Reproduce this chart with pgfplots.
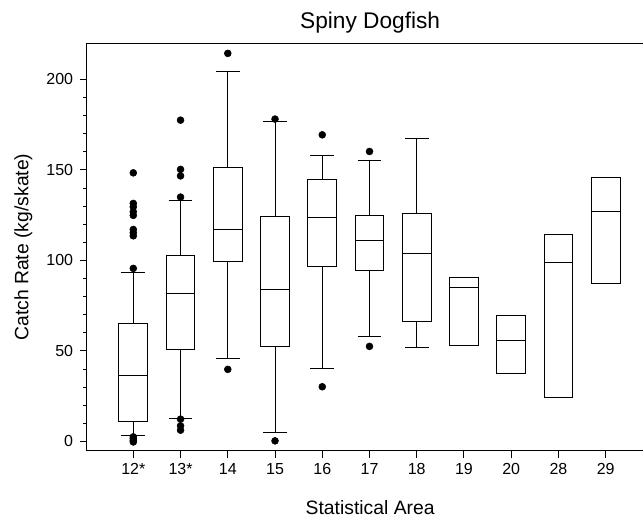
\documentclass[border=0pt]{standalone}
\usepackage{fontspec}
\setmainfont{Liberation Sans}
\usepackage{pgfplots}
\pgfplotsset{compat=1.18}
\usepgfplotslibrary{statistics}
\begin{document}
\begin{tikzpicture}
\path[use as bounding box] (-65.25pt,-51.75pt) rectangle (417pt,338.25pt);
\begin{axis}[
  at={(0pt,0pt)}, anchor=south west,
  scale only axis, width=420.75pt, height=305.8pt,
  xmin=-0.98, xmax=10.895, ymin=-5.3, ymax=220,
  xtick={0,...,10}, xticklabels={12*,13*,14,15,16,17,18,19,20,28,29},
  ytick={0,50,100,150,200}, minor y tick num=4,
  tick align=outside, xtick pos=bottom, ytick pos=left,
  major tick length=5.25pt, minor tick length=3pt,
  every tick/.style={black, line width=0.75pt},
  axis line style={line width=0.75pt},
  /pgf/number format/assume math mode=true,
  ticklabel style={font=\fontsize{12}{14}\selectfont},
  yticklabel style={inner sep=0pt, xshift=-5pt},
  xticklabel style={inner sep=0pt, yshift=-4pt},
  title={Spiny Dogfish},
  every axis title/.style={at={(axis description cs:0.5,1)}, anchor=base, yshift=11.25pt, xshift=2pt, font=\fontsize{17}{20}\selectfont},
  xlabel={Statistical Area},
  every axis x label/.style={at={(axis description cs:0.5,0)}, anchor=base, yshift=-47.5pt, xshift=2pt, font=\fontsize{14.5}{17}\selectfont},
  ylabel={Catch Rate (kg/skate)},
  every axis y label/.style={at={(axis description cs:0,0.5)}, xshift=-44pt, rotate=90, anchor=base, font=\fontsize{14.5}{17}\selectfont},
  bp/.style={black, solid, line width=0.75pt, mark=none, fill=none},
]
% 12*
\addplot+[boxplot prepared={draw direction=y, box extend=0.61, whisker extend=0.5, draw position=0, lower whisker=3.1, lower quartile=11.0, median=36.5, upper quartile=65.4, upper whisker=93.4}, bp] coordinates {};
% 13*
\addplot+[boxplot prepared={draw direction=y, box extend=0.61, whisker extend=0.5, draw position=1, lower whisker=12.5, lower quartile=50.8, median=81.8, upper quartile=102.5, upper whisker=132.9}, bp] coordinates {};
% 14
\addplot+[boxplot prepared={draw direction=y, box extend=0.61, whisker extend=0.5, draw position=2, lower whisker=46.0, lower quartile=99.6, median=117.1, upper quartile=151.5, upper whisker=204.2}, bp] coordinates {};
% 15
\addplot+[boxplot prepared={draw direction=y, box extend=0.61, whisker extend=0.5, draw position=3, lower whisker=4.8, lower quartile=52.5, median=84.0, upper quartile=124.1, upper whisker=176.6}, bp] coordinates {};
% 16
\addplot+[boxplot prepared={draw direction=y, box extend=0.61, whisker extend=0.5, draw position=4, lower whisker=40.1, lower quartile=96.9, median=123.5, upper quartile=144.5, upper whisker=158.0}, bp] coordinates {};
% 17
\addplot+[boxplot prepared={draw direction=y, box extend=0.61, whisker extend=0.5, draw position=5, lower whisker=57.8, lower quartile=94.6, median=110.8, upper quartile=124.6, upper whisker=155.4}, bp] coordinates {};
% 18
\addplot+[boxplot prepared={draw direction=y, box extend=0.61, whisker extend=0.5, draw position=6, lower whisker=51.7, lower quartile=66.5, median=103.6, upper quartile=126.1, upper whisker=167.6}, bp] coordinates {};
% 19
\addplot+[boxplot prepared={draw direction=y, box extend=0.61, whisker extend=0.5, draw position=7, lower whisker=53.0, lower quartile=53.0, median=84.9, upper quartile=90.4, upper whisker=90.4}, bp] coordinates {};
% 20
\addplot+[boxplot prepared={draw direction=y, box extend=0.61, whisker extend=0.5, draw position=8, lower whisker=37.6, lower quartile=37.6, median=55.6, upper quartile=69.4, upper whisker=69.4}, bp] coordinates {};
% 28
\addplot+[boxplot prepared={draw direction=y, box extend=0.61, whisker extend=0.5, draw position=9, lower whisker=24.1, lower quartile=24.1, median=98.9, upper quartile=114.4, upper whisker=114.4}, bp] coordinates {};
% 29
\addplot+[boxplot prepared={draw direction=y, box extend=0.61, whisker extend=0.5, draw position=10, lower whisker=87.1, lower quartile=87.1, median=127.1, upper quartile=145.6, upper whisker=145.6}, bp] coordinates {};
% outliers
\addplot[only marks, mark=*, mark size=2.6pt, black] coordinates {
 (0,148.4) (0,131.5) (0,129.6) (0,126.9) (0,124.9) (0,117.1) (0,115.3) (0,113.6) (0,95.6)
 (0,2.5) (0,1.5) (0,0.5) (0,-0.3)
 (1,177.5) (1,150.3) (1,146.7) (1,135.0) (1,12.3) (1,8.6) (1,6.2)
 (2,214.4) (2,39.8)
 (3,178.1) (3,0.3)
 (4,169.4) (4,30.2)
 (5,160.2) (5,52.5)
};
\end{axis}
\end{tikzpicture}
\end{document}
